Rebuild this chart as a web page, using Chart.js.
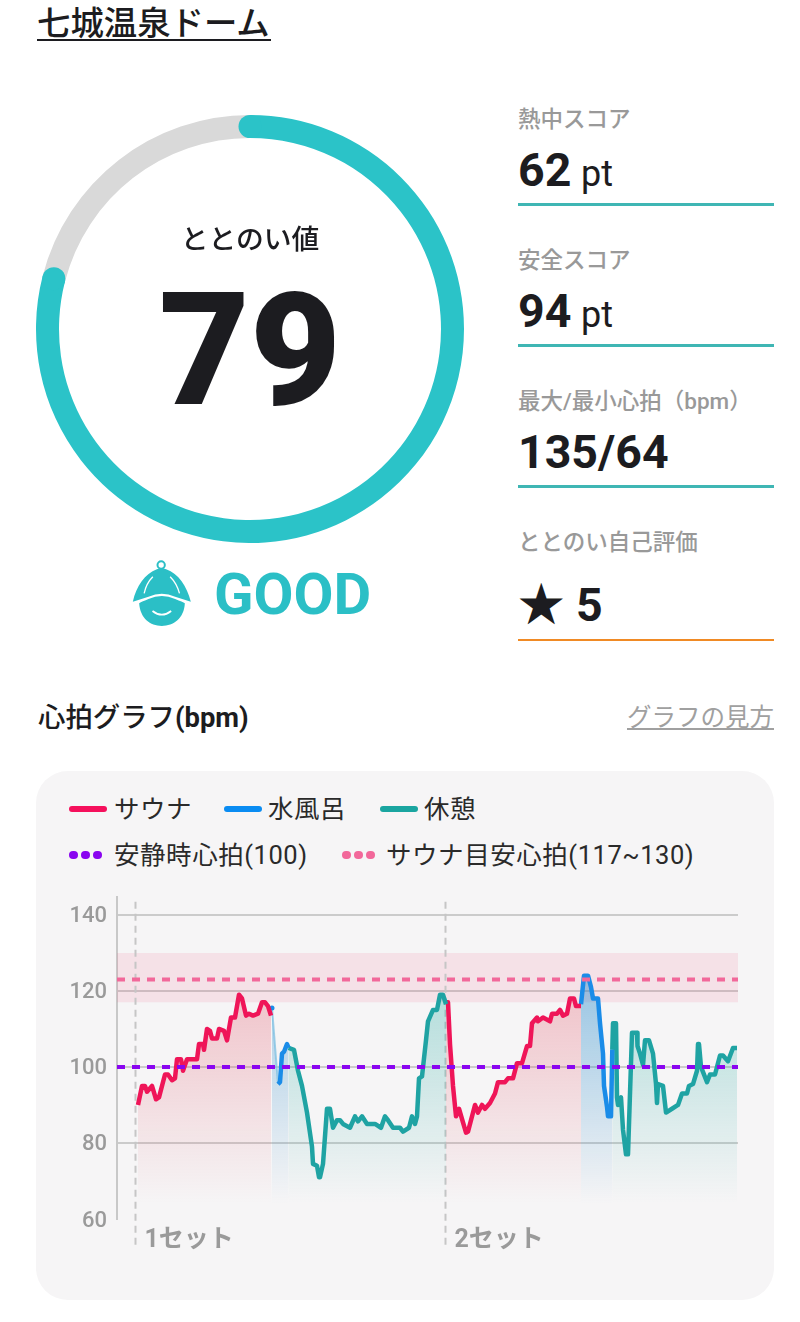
<!DOCTYPE html>
<html lang="ja"><head><meta charset="utf-8">
<script src="https://cdn.jsdelivr.net/npm/chart.js@4"></script>
<style>
html,body{margin:0;padding:0;background:#fff;width:800px;height:1322px;overflow:hidden}
body{position:relative;font-family:Roboto,"Noto Sans CJK JP",sans-serif;color:#1c1c20}
.a{position:absolute;white-space:nowrap;line-height:1}
.lab{left:518px;font-size:22.5px;color:#999;font-weight:500}
.val{left:518px;font-size:46.5px;font-weight:700}
.val small{font-size:36px;font-weight:400;margin-left:-2px}
.rule{position:absolute;left:518px;width:256px;height:3px;background:#3fb6b4}
.leg{font-size:25.5px;color:#2a2a2a;letter-spacing:.55px}
.sw{position:absolute;height:6px;border-radius:3px}
.dot{position:absolute;width:9px;height:8px;border-radius:4px}
canvas{position:absolute;display:block}
</style></head><body>
<div class="a" style="left:37px;top:7px;font-size:33.4px;font-weight:500">七城温泉ドーム</div>
<div style="position:absolute;left:37px;top:39px;width:234px;height:2px;background:#1c1c20"></div>

<canvas id="gauge" style="left:36px;top:115px;width:428px;height:428px"></canvas>
<div class="a" style="left:150px;width:200px;text-align:center;top:226px;font-size:27.8px;font-weight:500">ととのい値</div>
<div class="a" id="scoreText" style="left:100px;width:300px;text-align:center;top:272px;font-size:157px;font-weight:900"></div>

<svg style="position:absolute;left:120px;top:550px" width="87" height="90" viewBox="0 0 260 270">
<circle cx="123" cy="45" r="11" fill="none" stroke="#2bbfc6" stroke-width="6"/>
<path d="M38 155C48 110 75 70 110 58Q124 52 138 58C175 70 200 110 212 155Q190 148 165 140Q125 122 85 140Q60 148 38 155Z" fill="#2bbfc6"/>
<path d="M72 130Q78 100 98 80M178 130Q170 100 150 80" fill="none" stroke="#fff" stroke-width="4"/>
<path d="M57 160Q62 156 85 147Q125 129 165 147Q188 156 194 160C192 205 160 228 125 228C90 228 60 205 57 160Z" fill="#2bbfc6"/>
<path d="M97 183Q125 205 153 183" fill="none" stroke="#fff" stroke-width="5"/>
</svg>
<div class="a" style="left:214px;top:565px;font-size:58px;font-weight:700;color:#2bbfc6">GOOD</div>

<div class="a lab" style="top:108px">熱中スコア</div>
<div class="a val" style="top:147px" id="v1"></div>
<div class="rule" style="top:203px"></div>
<div class="a lab" style="top:249px">安全スコア</div>
<div class="a val" style="top:288px" id="v2"></div>
<div class="rule" style="top:344px"></div>
<div class="a lab" style="top:390px">最大/最小心拍（bpm）</div>
<div class="a val" style="top:429px" id="v3"></div>
<div class="rule" style="top:485px"></div>
<div class="a lab" style="top:531px">ととのい自己評価</div>
<div class="a val" style="top:582px" id="v4"></div>
<div class="rule" style="top:639px;height:2px;background:#f08a24"></div>

<div class="a" style="left:38px;top:705px;font-size:27.4px;font-weight:500">心拍グラフ<span style="font-weight:700">(bpm)</span></div>
<div class="a" style="right:26px;top:706px;font-size:24.5px;color:#a0a0a0;text-decoration:underline">グラフの見方</div>

<div style="position:absolute;left:36px;top:771px;width:738px;height:529px;border-radius:32px;background:#f6f5f6"></div>
<div class="sw" style="left:69px;top:806px;width:38px;background:#f5105c"></div>
<div class="a leg" style="left:114px;top:797px">サウナ</div>
<div class="sw" style="left:224px;top:806px;width:38px;background:#0a8cf2"></div>
<div class="a leg" style="left:268px;top:797px">水風呂</div>
<div class="sw" style="left:380px;top:806px;width:38px;background:#1aa5a0"></div>
<div class="a leg" style="left:424px;top:797px">休憩</div>
<div class="dot" style="left:69px;top:851px;background:#8a05f0"></div><div class="dot" style="left:81px;top:851px;background:#8a05f0"></div><div class="dot" style="left:93px;top:851px;background:#8a05f0"></div>
<div class="a leg" style="left:114px;top:843px">安静時心拍(100)</div>
<div class="dot" style="left:342px;top:851px;background:#f2689a"></div><div class="dot" style="left:354px;top:851px;background:#f2689a"></div><div class="dot" style="left:366px;top:851px;background:#f2689a"></div>
<div class="a leg" style="left:386px;top:843px">サウナ目安心拍(117~130)</div>

<canvas id="heart" style="left:36px;top:880px;width:738px;height:400px"></canvas>

<script>
const score = 79, scoreRest = 21;
const heatScore = 62, safeScore = 94, maxHr = 135, minHr = 64, selfRating = 5;

const sauna1X = [21,25,28,30,35,39,42,48,51,55,58,60,64,66,70,80,82,86,87,90,93,95,100,102,107,110,114,118,122,125,129,132,136,141,145,148,151,154];
const sauna1Y = [90,95,95,93.5,95,91.5,92,98,98,96.5,97,102,102,99,102,102,106,106,104.5,110,109.5,107.5,107.5,110,109.5,107,113,113,119,118,113.5,114,113.5,114,117,117,116,113.5];
const bath1X = [155,161,163,165,167,170,171.5];
const bath1Y = [115.5,95.5,96,103.5,104,106,105];
const rest1X = [171.5,177,181,185,190,195,196,200,202,203,206,210,213,216,220,223,226,233,238,241,245,250,258,264,268,271,276,283,286,292,295,298,300,302,305,309,311,316,320,323,326,329];
const rest1Y = [105,104.5,99,95,88,79,74.5,74,71,71,74.5,89,89,84,86,86,85,84,87,85.7,87,85,85,84,87,86,84,84,83,84,87,85,87,97,97.5,107,112,115,115,119,119,116.5];
const sauna2X = [329,331,333,336,339,342,349,351,358,361,365,368,373,378,381,388,391,396,400,405,410,413,415,420,421,426,433,435,440,443,446,450,453,457,459,464];
const sauna2Y = [117,117,106,95,87,89,82.7,83,90,88,90,89,90.5,93,96,96,97,97,101,101,105.5,105.5,111.5,113,112,113,112,114,114,115,113.5,114,118,118,116,116];
const bath2X = [464,467,471,474,476,481,483,486,487,490,491,494,495.3];
const bath2Y = [116.5,124,124,121,118,118,111.5,103.5,95,89.5,87,87,104.5];
const rest2X = [495.3,496,499,500,501,504,506,509,511,515,520,520.5,523,526,528,532,536,539,540,541,546,549,555,561,565,570,572,576,580,581,582,584,590,593,598,603,606,611,616,620];
const rest2Y = [104.5,111.5,111.5,92,90,92,83.5,77,77,109,109,105.5,103.5,100.5,107,107,103.5,95.5,90.5,95.5,95,88,89,90,93,93,95,95.5,99,106,106,100,96,98,98,103,103,101.5,105,105];

const restingHr = 100, guideMid = 123, guideLow = 117, guideHigh = 130;
const setStarts = [18.5, 328.5], setLabels = ['1セット','2セット'];
const yTicks = [60,80,100,120,140];
const xMin = 0, xMax = 621, yMin = 60, yMax = 144.7, setLineBottom = 53.2;

const TEAL = '#2bc3c8', GREY = '#d9d9d9';
document.getElementById('scoreText').textContent = score;
document.getElementById('v1').innerHTML = heatScore + ' <small>pt</small>';
document.getElementById('v2').innerHTML = safeScore + ' <small>pt</small>';
document.getElementById('v3').textContent = maxHr + '/' + minHr;
document.getElementById('v4').innerHTML = '★ ' + selfRating;

const caps = {id:'caps', afterDatasetsDraw(c){
  const a = c.getDatasetMeta(0).data[0], g = c.ctx, r = (a.outerRadius + a.innerRadius)/2, w = (a.outerRadius - a.innerRadius)/2;
  g.save(); g.fillStyle = TEAL;
  [a.startAngle, a.endAngle].forEach(t => { g.beginPath(); g.arc(a.x + r*Math.cos(t), a.y + r*Math.sin(t), w, 0, 2*Math.PI); g.fill(); });
  g.restore();
}};
new Chart(document.getElementById('gauge'), {
  type:'doughnut',
  data:{labels:['ととのい値','残り'], datasets:[{data:[score,scoreRest], backgroundColor:[TEAL,GREY], borderWidth:0}]},
  options:{responsive:false, animation:false, cutout:191, radius:214, layout:{padding:0},
    plugins:{legend:{display:false}, tooltip:{enabled:false}}},
  plugins:[caps]
});

const pts = (xs,ys) => xs.map((x,i) => ({x, y:ys[i]}));
const grad = (rgb, a, top, bottom) => ctx => {
  const {chart} = ctx; const s = chart.scales.y;
  if (!s || !chart.chartArea) return 'transparent';
  const g = chart.ctx.createLinearGradient(0, s.getPixelForValue(top), 0, s.getPixelForValue(bottom));
  g.addColorStop(0, `rgba(${rgb},${a})`); g.addColorStop(1, `rgba(${rgb},0)`);
  return g;
};
const seg = (label, xs, ys, color, rgb, a, extra) => Object.assign({
  label, data:pts(xs,ys), borderColor:color, borderWidth:4.5, pointRadius:0, tension:0,
  borderJoinStyle:'round', fill:'start', backgroundColor:grad(rgb,a,124,64), order:5, clip:false
}, extra||{});
const RED='#ef1558', BLUE='#1a8ce8', GREEN='#1fa3a3';
const flat = (label, v, color, order, dash) => ({label, data:pts([xMin,xMax],[v,v]), borderColor:color, borderWidth:4, borderDash:dash, pointRadius:0, fill:false, order});

new Chart(document.getElementById('heart'), {
  type:'line',
  data:{datasets:[
    {label:'サウナ目安心拍帯', data:pts([xMin,xMax],[guideHigh,guideHigh]), borderWidth:0, pointRadius:0, fill:{value:guideLow}, backgroundColor:'rgba(240,60,110,.11)', order:10},
    ...setStarts.map(s => ({label:'セット', data:pts([s,s],[setLineBottom,yMax]), borderColor:'#c6c6c6', borderWidth:2, borderDash:[7,5], pointRadius:0, fill:false, clip:false, order:8})),
    seg('サウナ',sauna1X,sauna1Y,RED,'225,70,90',.30),
    seg('水風呂',bath1X,bath1Y,BLUE,'20,130,200',.36,{
      segment:{borderColor:c => c.p0DataIndex===0 ? 'rgba(120,190,225,.7)' : undefined, borderWidth:c => c.p0DataIndex===0 ? 2 : undefined},
      pointRadius:c => c.dataIndex===0 ? 2.5 : 0, pointBackgroundColor:BLUE, pointBorderWidth:0}),
    seg('休憩',rest1X,rest1Y,GREEN,'30,170,160',.33),
    seg('サウナ',sauna2X,sauna2Y,RED,'225,70,90',.30),
    seg('水風呂',bath2X,bath2Y,BLUE,'20,130,200',.42),
    seg('休憩',rest2X,rest2Y,GREEN,'30,170,160',.33),
    flat('サウナ目安心拍', guideMid, '#f2689a', 2, [8,7]),
    flat('安静時心拍', restingHr, '#8a05f0', 1, [8,7])
  ]},
  options:{responsive:false, animation:false,
    layout:{padding:{left:0,right:36,top:17,bottom:0}},
    plugins:{legend:{display:false}, tooltip:{enabled:false}},
    scales:{
      x:{type:'linear', min:xMin, max:xMax,
        afterBuildTicks:s => { s.ticks = setStarts.map(value => ({value})); },
        afterFit:s => { s.height = 61; s.paddingLeft = 0; s.paddingRight = 0; },
        border:{display:false}, grid:{display:false, drawTicks:false},
        ticks:{autoSkip:false, maxRotation:0, align:'start', labelOffset:9, padding:7, color:'#9a9a9a',
          font:{family:'Roboto,"Noto Sans CJK JP"', size:25, weight:'700'},
          callback:v => setLabels[setStarts.indexOf(v)]}},
      y:{type:'linear', min:yMin, max:yMax,
        afterBuildTicks:s => { s.ticks = yTicks.map(value => ({value})); },
        afterFit:s => { s.width = 81; s.paddingTop = 0; s.paddingBottom = 0; },
        border:{color:'#c8c8c8', width:2},
        grid:{drawTicks:false, lineWidth:2, color:c => c.tick && c.tick.value===yMin ? 'transparent' : '#cbcbcb'},
        ticks:{padding:10, labelOffset:2, color:'#9a9a9a', font:{family:'Roboto', size:22, weight:'500'}}}
    }
  }
});
</script>
</body></html>
